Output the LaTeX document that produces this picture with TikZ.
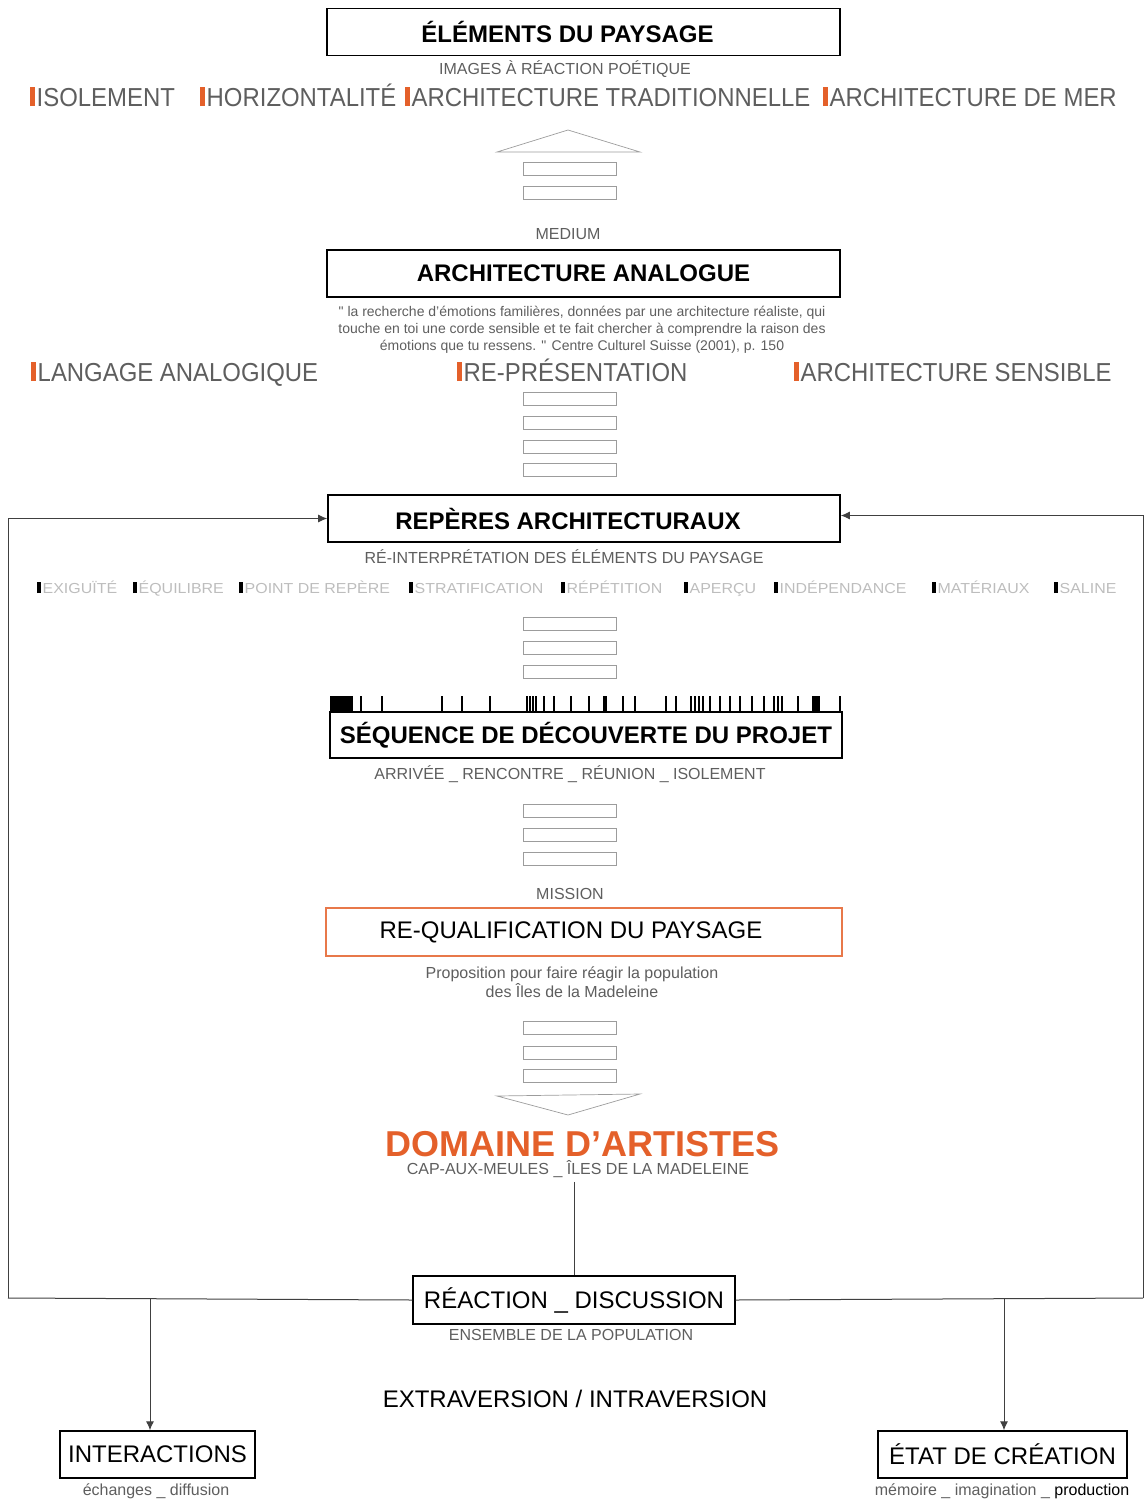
\documentclass[tikz,border=0pt]{standalone}
\usepackage{fontspec}
\setmainfont{Liberation Sans}
\newfontfamily\condfont[FakeStretch=0.92]{Liberation Sans}
\newfontfamily\widefont[FakeStretch=1.1]{Liberation Sans}
\usetikzlibrary{arrows.meta,positioning}

\definecolor{orng}{HTML}{E4602A}
\definecolor{txtgray}{HTML}{5E5E5E}
\definecolor{keygray}{HTML}{BDBDBD}
\definecolor{rectgray}{HTML}{9C9C9C}
\newcommand{\obar}{{\color{orng}\rule{4.5pt}{0.72em}}\hspace{2pt}}
\newcommand{\kbar}{{\color{black}\rule{3.5pt}{0.75em}}\hspace{2pt}}

\begin{document}
\begin{tikzpicture}[x=1pt,y=-1pt,
    titlebox/.style={draw,line width=1.6pt,minimum height=47pt,inner sep=0pt,
        font=\bfseries\fontsize{24}{28}\selectfont},
    plainbox/.style={draw,line width=1.4pt,minimum height=47pt,inner sep=0pt,
        font=\fontsize{24}{28}\selectfont},
    sub/.style={text=txtgray,inner sep=0pt,font=\fontsize{16}{19}\selectfont},
    tagword/.style={anchor=base west,text=txtgray,inner sep=0pt,
        font=\condfont\fontsize{26}{28}\selectfont},
    keyword/.style={anchor=base west,text=keygray,inner sep=0pt,font=\widefont\fontsize{14.5}{16}\selectfont},
    flowrect/.style={draw=rectgray,line width=0.7pt},
    link/.style={draw=black!75,line width=1pt},
    tip/.style={-{Latex[length=9pt,width=8pt]}}]
    \useasboundingbox (0,0) rectangle (1145,1499);

    % elements du paysage
    \node[titlebox,minimum width=513pt] (elements) at (583.5,32) {ÉLÉMENTS DU PAYSAGE\hspace*{32pt}};
    \node[sub] (images) at (565,69) {IMAGES À RÉACTION POÉTIQUE};
    \node[tagword] (isolement) at (30,106) {\obar ISOLEMENT};
    \node[tagword] (horizont) at (200,106) {\obar HORIZONTALITÉ};
    \node[tagword] (tradition) at (405,106) {\obar ARCHITECTURE TRADITIONNELLE};
    \node[tagword] (mer) at (823,106) {\obar ARCHITECTURE DE MER};

    % arrow up
    \draw[flowrect] (497,152) -- (568,130) -- (640,152) -- cycle;
    \foreach \y in {162,186}
        \draw[flowrect] (523,\y) rectangle (616,\y+13);
    \node[sub] (medium) at (568,234) {MEDIUM};

    % architecture analogue
    \node[titlebox,minimum width=513pt] (analogue) at (583.5,273.5) {ARCHITECTURE ANALOGUE};
    \node[text=txtgray,align=center,inner sep=0pt,font=\fontsize{14}{17}\selectfont] (quote) at (582,330)
        {\textquotedbl{} la recherche d'émotions familières, données par une architecture réaliste, qui\\
         touche en toi une corde sensible et te fait chercher à comprendre la raison des\\
         émotions que tu ressens. \textquotedbl{} Centre Culturel Suisse (2001), p. 150};
    \node[tagword] (langage) at (31,381) {\obar LANGAGE ANALOGIQUE};
    \node[tagword] (represent) at (457,381) {\obar RE-PRÉSENTATION};
    \node[tagword] (sensible) at (794,381) {\obar ARCHITECTURE SENSIBLE};
    \foreach \y in {392,416,440,463}
        \draw[flowrect] (523,\y) rectangle (616,\y+13);

    % reperes architecturaux
    \node[titlebox,minimum width=512pt] (reperes) at (584,518.5) {REPÈRES ARCHITECTURAUX\hspace*{32pt}};
    \node[sub] (reinterp) at (564,557) {RÉ-INTERPRÉTATION DES ÉLÉMENTS DU PAYSAGE};
    \foreach \x/\word in {37/EXIGUÏTÉ,133/ÉQUILIBRE,239/POINT DE REPÈRE,409/STRATIFICATION,
        561/RÉPÉTITION,684/APERÇU,774/INDÉPENDANCE,932/MATÉRIAUX,1054/SALINE}
        \node[keyword] at (\x,593) {\kbar\word};
    \foreach \y in {617,641,665}
        \draw[flowrect] (523,\y) rectangle (616,\y+13);

    % sequence
    \node[titlebox,minimum width=512pt,minimum height=46pt] (sequence) at (586,735) {SÉQUENCE DE DÉCOUVERTE DU PROJET};
    \fill (330,696) rectangle (353,712);
    \foreach \x in {361,382,442,462,490,527,530,533,536,544,554,571,589,623,635,666,676,
        691,695,699,703,710,720,730,740,752,764,774,778,782,798,840}
        \fill (\x-1,696) rectangle (\x+1,712);
    \fill (603,696) rectangle (607,712);
    \fill (812,696) rectangle (820,712);
    \node[sub] (arrivee) at (570,774) {ARRIVÉE \_ RENCONTRE \_ RÉUNION \_ ISOLEMENT};
    \foreach \y in {804,828,852}
        \draw[flowrect] (523,\y) rectangle (616,\y+13);
    \node[sub] (mission) at (570,894) {MISSION};

    % re-qualification
    \node[plainbox,draw=orng!85,line width=1.2pt,minimum width=516pt,minimum height=48pt] (requal) at (584,932)
        {RE-QUALIFICATION DU PAYSAGE\hspace*{26pt}};
    \node[text=txtgray,align=center,inner sep=0pt,font=\fontsize{16}{19}\selectfont] (propos) at (572,982)
        {Proposition pour faire réagir la population\\des Îles de la Madeleine};
    \foreach \y in {1021,1046,1069}
        \draw[flowrect] (523,\y) rectangle (616,\y+13);
    \draw[flowrect] (497,1096) -- (640,1094) -- (568,1115) -- cycle;

    % domaine
    \node[text=orng,inner sep=0pt,font=\bfseries\fontsize{36}{40}\selectfont] (domaine) at (583,1144) {DOMAINE D'ARTISTES};
    \node[sub] (capaux) at (578,1169) {CAP-AUX-MEULES \_ ÎLES DE LA MADELEINE};

    % reaction
    \node[plainbox,minimum width=322pt,minimum height=48pt] (reaction) at (574,1300) {RÉACTION \_ DISCUSSION};
    \node[sub] (ensemble) at (571,1335) {ENSEMBLE DE LA POPULATION};
    \node[inner sep=0pt,font=\fontsize{24}{26}\selectfont] (extra) at (575,1399) {EXTRAVERSION / INTRAVERSION};
    \node[plainbox,minimum width=195pt] (interact) at (157.5,1454.5) {INTERACTIONS};
    \node[plainbox,minimum width=249pt] (etat) at (1002.5,1454.5) {ÉTAT DE CRÉATION};
    \node[sub] (echanges) at (156,1491) {échanges \_ diffusion};
    \node[sub] (memoire) at (1002,1491) {mémoire \_ imagination \_ {\color{black}production}};

    % connectors
    \coordinate (lpt) at (8,1298);
    \coordinate (rpt) at (1143,1298);
    \coordinate (ljoin) at (150,1298);
    \coordinate (rjoin) at (1004,1298);
    \draw[link] (reaction.north |- capaux.south) ++(0,4) -- (reaction.north);
    \draw[link] (lpt) -- (reaction.west);
    \draw[link] (reaction.east) -- (rpt);
    \draw[link,tip] (lpt) |- (reperes.west);
    \draw[link,tip] (rpt) |- ([yshift=3pt]reperes.east);
    \draw[link,tip] (ljoin) -- (ljoin |- interact.north);
    \draw[link,tip] (rjoin) -- (rjoin |- etat.north);
\end{tikzpicture}
\end{document}
